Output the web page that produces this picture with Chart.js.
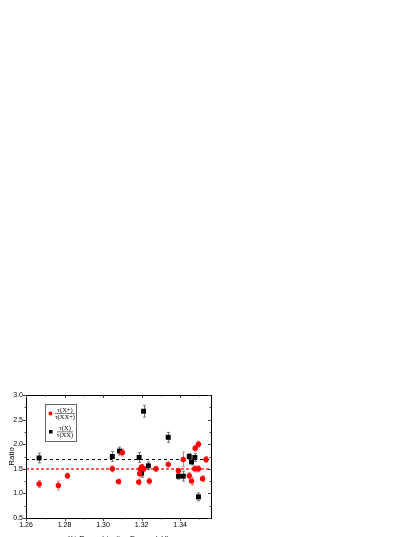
<!DOCTYPE html>
<html>
<head>
<meta charset="utf-8">
<script src="https://cdn.jsdelivr.net/npm/chart.js@4.4.1/dist/chart.umd.min.js"></script>
<style>
  html, body { margin: 0; padding: 0; background: #fff; overflow: hidden; }
  #wrap { width: 415px; height: 537px; overflow: hidden; }
</style>
</head>
<body>
<div id="wrap"><canvas id="c" width="415" height="543"></canvas></div>
<script>
// tau(X+)/tau(XX+) ratios
const redX = [1.2668, 1.2768, 1.2815, 1.3048, 1.3080, 1.3100, 1.3185, 1.3190, 1.3193, 1.3200, 1.3210, 1.3240, 1.3274, 1.3338, 1.3391, 1.3416, 1.3447, 1.3459, 1.3476, 1.3478, 1.3495, 1.3495, 1.3516, 1.3534];
const redY = [1.19, 1.16, 1.36, 1.50, 1.24, 1.83, 1.23, 1.40, 1.49, 1.54, 1.50, 1.25, 1.50, 1.59, 1.46, 1.69, 1.36, 1.25, 1.50, 1.92, 2.00, 1.50, 1.30, 1.69];
const redErr = [0.07, 0.09, 0.05, 0.06, 0.05, 0.07, 0.06, 0.06, 0.05, 0.05, 0.05, 0.06, 0.05, 0.05, 0.05, 0.15, 0.06, 0.08, 0.06, 0.06, 0.06, 0.06, 0.06, 0.06];

// tau(X)/tau(XX) ratios
const blackX = [1.2668, 1.3048, 1.3085, 1.3187, 1.3200, 1.3210, 1.3235, 1.3338, 1.3391, 1.3416, 1.3447, 1.3459, 1.3476, 1.3495];
const blackY = [1.72, 1.75, 1.86, 1.73, 1.41, 2.67, 1.56, 2.14, 1.35, 1.35, 1.75, 1.64, 1.73, 0.93];
const blackErr = [0.10, 0.10, 0.08, 0.10, 0.08, 0.12, 0.08, 0.10, 0.06, 0.10, 0.06, 0.06, 0.08, 0.08];

// mean lines
const meanBlack = 1.7;
const meanRed = 1.5;

const xTicks = [1.26, 1.28, 1.30, 1.32, 1.34];
const xMinor = [1.27, 1.29, 1.31, 1.33, 1.35];
const yTicks = [0.5, 1.0, 1.5, 2.0, 2.5, 3.0];
const yMinor = [0.75, 1.25, 1.75, 2.25, 2.75];

const sans = 'Liberation Sans, Arial, sans-serif';
const serif = 'Liberation Serif, Times New Roman, serif';

const toPts = (xs, ys) => xs.map((x, i) => ({ x: x, y: ys[i] }));

// error bars
const errorBars = {
  id: 'errorBars',
  beforeDatasetsDraw(chart) {
    const { ctx, scales: { x, y } } = chart;
    const sets = [[redX, redY, redErr, '#f07a7a'], [blackX, blackY, blackErr, '#777']];
    ctx.save();
    ctx.lineWidth = 1;
    sets.forEach(([xs, ys, es, col]) => {
      ctx.strokeStyle = col;
      xs.forEach((v, i) => {
        const px = Math.round(x.getPixelForValue(v)) + 0.5;
        const top = y.getPixelForValue(ys[i] + es[i]);
        const bot = y.getPixelForValue(ys[i] - es[i]);
        ctx.beginPath();
        ctx.moveTo(px, top); ctx.lineTo(px, bot);
        ctx.moveTo(px - 1.5, top); ctx.lineTo(px + 1.5, top);
        ctx.moveTo(px - 1.5, bot); ctx.lineTo(px + 1.5, bot);
        ctx.stroke();
      });
    });
    ctx.restore();
  }
};

// dashed mean lines
const meanLines = {
  id: 'meanLines',
  beforeDatasetsDraw(chart) {
    const { ctx, chartArea: a, scales: { y } } = chart;
    ctx.save();
    ctx.lineWidth = 1;
    let py = Math.round(y.getPixelForValue(meanBlack)) + 0.5;
    ctx.strokeStyle = '#000';
    ctx.setLineDash([3, 3]);
    ctx.beginPath(); ctx.moveTo(a.left, py); ctx.lineTo(a.right, py); ctx.stroke();
    // red line spread over two pixel rows so it stays clearly red
    py = Math.round(y.getPixelForValue(meanRed));
    ctx.strokeStyle = '#ff2a2a';
    ctx.lineWidth = 1.5;
    ctx.setLineDash([3, 2]);
    ctx.beginPath(); ctx.moveTo(a.left, py); ctx.lineTo(a.right, py); ctx.stroke();
    ctx.restore();
  }
};

// frame with Origin style ticks
const frame = {
  id: 'frame',
  afterDraw(chart) {
    const { ctx, chartArea: a, scales: { x, y } } = chart;
    ctx.save();
    ctx.strokeStyle = '#000';
    ctx.lineWidth = 1;
    ctx.strokeRect(a.left + 0.5, a.top + 0.5, a.right - a.left, a.bottom - a.top);
    ctx.strokeStyle = '#444';
    ctx.beginPath();
    const tx = (v, len) => {
      const px = Math.round(x.getPixelForValue(v)) + 0.5;
      ctx.moveTo(px, a.bottom); ctx.lineTo(px, a.bottom + len);
      ctx.moveTo(px, a.top); ctx.lineTo(px, a.top + len);
    };
    const ty = (v, len) => {
      const py = Math.round(y.getPixelForValue(v)) + 0.5;
      ctx.moveTo(a.left, py); ctx.lineTo(a.left - len, py);
      ctx.moveTo(a.right, py); ctx.lineTo(a.right - len, py);
    };
    xTicks.forEach(v => tx(v, 3));
    xMinor.forEach(v => tx(v, 1.5));
    yTicks.forEach(v => ty(v, 3));
    yMinor.forEach(v => ty(v, 1.5));
    ctx.stroke();
    ctx.restore();
  }
};

// legend box with fractions
const fracLegend = {
  id: 'fracLegend',
  afterDraw(chart) {
    const { ctx } = chart;
    ctx.save();
    ctx.strokeStyle = '#666';
    ctx.lineWidth = 1;
    ctx.strokeRect(45.5, 404.5, 31, 37);
    ctx.fillStyle = '#ff0000';
    ctx.beginPath(); ctx.arc(50.5, 413.5, 1.9, 0, Math.PI * 2); ctx.fill();
    ctx.fillStyle = '#000';
    ctx.fillRect(49, 430, 3.5, 3.5);
    ctx.font = '6.5px ' + serif;
    ctx.textAlign = 'center';
    ctx.textBaseline = 'middle';
    const cx = 65;
    ctx.fillText('\u03c4(X+)', cx, 409.8);
    ctx.fillText('\u03c4(XX+)', cx, 417.3);
    ctx.fillText('\u03c4(X)', cx, 428);
    ctx.fillText('\u03c4(XX)', cx, 435.7);
    ctx.lineWidth = 0.6;
    ctx.strokeStyle = '#333';
    ctx.beginPath();
    ctx.moveTo(55, 413.5); ctx.lineTo(75, 413.5);
    ctx.moveTo(57, 431.8); ctx.lineTo(73, 431.8);
    ctx.stroke();
    ctx.restore();
  }
};

new Chart(document.getElementById('c'), {
  type: 'scatter',
  data: {
    datasets: [
      {
        label: 'tau(X+)/tau(XX+)',
        data: toPts(redX, redY),
        pointStyle: 'circle',
        pointRadius: 2.7,
        backgroundColor: '#ff0000',
        borderColor: '#ff0000',
        borderWidth: 0
      },
      {
        label: 'tau(X)/tau(XX)',
        data: toPts(blackX, blackY),
        pointStyle: 'rect',
        pointRadius: 3.5,
        backgroundColor: '#000',
        borderColor: '#000',
        borderWidth: 0
      }
    ]
  },
  options: {
    responsive: false,
    animation: false,
    events: [],
    layout: { padding: { left: 0, top: 395, right: 204, bottom: 0 } },
    plugins: { legend: { display: false }, tooltip: { enabled: false } },
    scales: {
      x: {
        type: 'linear',
        min: 1.26,
        max: 1.356,
        afterBuildTicks: s => { s.ticks = xTicks.map(v => ({ value: v })); },
        afterFit: s => { s.height = 25; },
        grid: { display: false, drawTicks: false },
        border: { display: false },
        ticks: {
          padding: 3,
          color: '#000',
          font: { family: sans, size: 7 },
          callback: v => v.toFixed(2)
        },
        title: {
          display: true,
          text: 'X+ Recombination Energy (eV)',
          color: '#000',
          font: { family: sans, size: 7.3 },
          padding: { top: 0, bottom: 0 }
        }
      },
      y: {
        type: 'linear',
        min: 0.5,
        max: 3.0,
        afterBuildTicks: s => { s.ticks = yTicks.map(v => ({ value: v })); },
        afterFit: s => { s.width = 26; },
        grid: { display: false, drawTicks: false },
        border: { display: false },
        ticks: {
          padding: 3,
          color: '#000',
          font: { family: sans, size: 7 },
          callback: v => v.toFixed(1)
        },
        title: {
          display: true,
          text: 'Ratio',
          color: '#000',
          font: { family: sans, size: 8 },
          padding: { top: 7, bottom: 0 }
        }
      }
    }
  },
  plugins: [meanLines, errorBars, frame, fracLegend]
});
</script>
</body>
</html>
